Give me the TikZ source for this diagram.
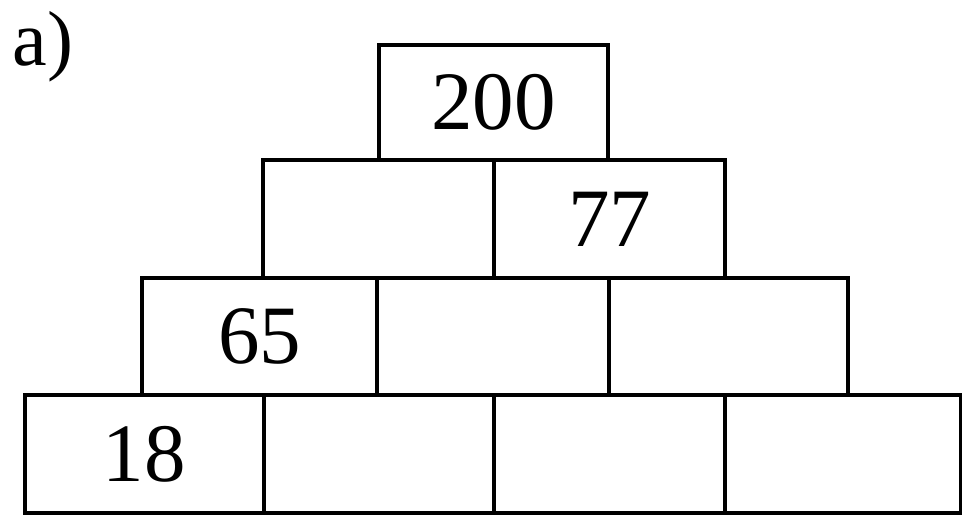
\documentclass[tikz,border=0pt]{standalone}
\usepackage{fontspec}
\setmainfont{Liberation Serif}
\usepackage{tikz}
\usetikzlibrary{positioning}

\begin{document}
\begin{tikzpicture}[x=0.5pt,y=-0.5pt,
  cell/.style={draw,line width=2pt,inner sep=0pt,outer sep=0pt,
    minimum width=#1*0.5pt,minimum height=117.5*0.5pt,
    font=\fontsize{41.5}{48}\selectfont},
  cell/.default=231]
\useasboundingbox (0,0) rectangle (962,514);
% bottom row
\node[cell=239.5] (d1) at (144.25,454) {18};
\node[cell=230] (d2) at (379,454) {};
\node[cell=231] (d3) at (609.5,454) {};
\node[cell=235.5] (d4) at (842.75,454) {};
% third row
\node[cell=235] (c1) at (259.5,336.5) {65};
\node[cell=232] (c2) at (493,336.5) {};
\node[cell=239] (c3) at (728.5,336.5) {};
% second row
\node[cell=231] (b1) at (378.5,219) {};
\node[cell=231] (b2) at (609.5,219) {77};
% top
\node[cell=229,minimum height=115*0.5pt] (a1) at (493.5,102.5) {200};
% label
\node[anchor=base west,inner sep=0pt,font=\fontsize{39}{46}\selectfont] (lbl) at (12,65) {a)};
\end{tikzpicture}
\end{document}
